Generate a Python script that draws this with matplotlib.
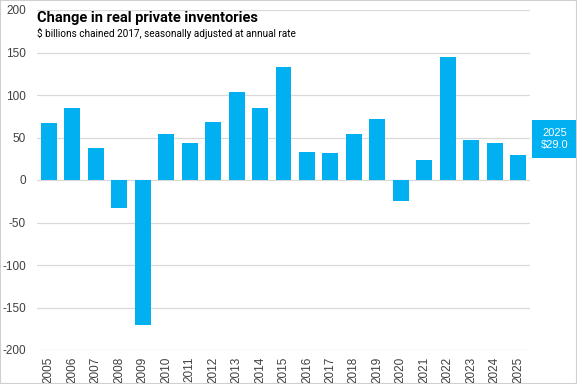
import matplotlib
matplotlib.use("Agg")
import matplotlib.pyplot as plt
from matplotlib.patches import Rectangle

years = [str(y) for y in range(2005, 2026)]
values = [67, 85, 38, -33, -170, 54, 44, 68, 104, 85, 133, 33, 32, 54, 72, -25, 23, 145, 47, 44, 29.0]
yticks = [-200, -150, -100, -50, 0, 50, 100, 150, 200]
title = "Change in real private inventories"
subtitle = "$ billions chained 2017, seasonally adjusted at annual rate"
last_label = "2025\n$29.0"

W, H = 577, 384
fig = plt.figure(figsize=(W / 100, H / 100), dpi=100)
fig.patch.set_facecolor("white")

ax = fig.add_axes([37 / W, 1 - 350 / H, (530 - 37) / W, (350 - 10) / H])
x = list(range(len(years)))
ax.bar(x, values, width=0.68, color="#00B0F0", zorder=3)
ax.set_xlim(-0.5, len(years) - 0.5)
ax.set_ylim(-200, 200)
ax.set_yticks(yticks)
ax.set_yticklabels([str(v) for v in yticks], fontsize=8.5, family="Liberation Sans", color="#404040")
ax.set_xticks(x)
ax.set_xticklabels(years, rotation=90, fontsize=8.5, family="Liberation Sans", color="#404040")
ax.tick_params(length=0)
ax.tick_params(axis="y", pad=8)
ax.tick_params(axis="x", pad=5)
ax.grid(axis="y", color="#d9d9d9", linewidth=0.9, zorder=0)
for s in ax.spines.values():
    s.set_visible(False)

fig.text(37 / W, 1 - 11 / H, title, fontsize=10.5, fontweight="bold", family="Roboto",
         va="top", ha="left", color="black")
fig.text(37 / W, 1 - 28 / H, subtitle, fontsize=7.2, family="Roboto",
         va="top", ha="left", color="black")

# annotation box for last value
bx0, by0, bx1, by1 = 532, 120, 577, 158
fig.patches.append(Rectangle((bx0 / W, 1 - by1 / H), (bx1 - bx0) / W, (by1 - by0) / H,
                             transform=fig.transFigure, facecolor="#00B0F0", edgecolor="none"))
fig.text((bx0 + bx1) / 2 / W, 1 - (by0 + by1) / 2 / H, last_label, ha="center", va="center",
         fontsize=8, family="Liberation Sans", color="white", linespacing=1.3)

# light border around figure
fig.patches.append(Rectangle((0, 0), 1, 1, transform=fig.transFigure, facecolor="none",
                             edgecolor="#d0d0d0", linewidth=1.5))

fig.savefig("out.png", dpi=100)
